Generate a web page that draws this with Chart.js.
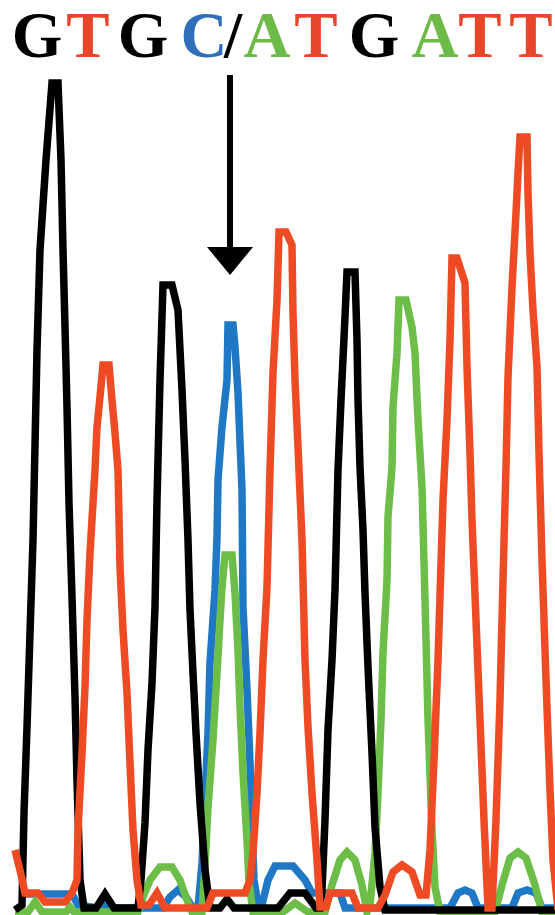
<!DOCTYPE html>
<html>
<head>
<meta charset="utf-8">
<script src="https://cdn.jsdelivr.net/npm/chart.js@4/dist/chart.umd.min.js"></script>
<style>
  html, body { margin: 0; padding: 0; background: #fff; }
  #wrap { position: relative; width: 555px; height: 915px; background: #fff; overflow: hidden; }
  #c { position: absolute; left: 0; top: 0; }
  .base { position: absolute; top: 3px; font-family: "Liberation Serif", "Times New Roman", serif; font-weight: bold; font-size: 65px; line-height: 1; transform: translateX(-50%); white-space: nowrap; }
</style>
</head>
<body>
<div id="wrap">
  <canvas id="c" width="555" height="915"></canvas>
  <div id="seq"></div>
</div>
<script>
// ---- Sequence read (base calls) ----
const baseLabels = ["G", "T", "G", "C", "/", "A", "T", "G", "A", "T", "T"];
const baseTypes  = ["G", "T", "G", "C", "/", "A", "T", "G", "A", "T", "T"];
// scan positions of the base calls (trace x units)
const basePositions = [37, 88, 143, 204, 233, 267, 316, 374, 435, 480, 531];

// ---- Trace data: scan position (x) and fluorescence intensity ----
const gScan = [15,22,24,27,30,33,37,40,46,52,58,61,63,65,67,69,72,75,77,80,84,96,105,114,138,141,145,148,152,155,157,160,163,172,178,182,185,188,190,193,196,200,205,210,220,227,234,278,290,305,316,320,322,325,328,332,335,338,341,345,347,355,357,358,360,363,365,368,372,375,380,385,555];
const gSignal = [0,5,97,183,277,370,560,660,750,827,827,750,660,583,503,407,313,213,130,30,2,2,16,2,2,30,87,160,227,303,410,530,625,625,600,520,450,370,300,237,177,107,40,2,2,11,2,2,17,17,2,2,20,90,180,250,320,440,510,593,638,638,570,510,443,380,317,243,157,83,23,0,0];

const tScan = [15,20,25,38,45,65,72,77,78,82,85,87,90,95,97,100,103,109,112,115,118,120,123,127,130,133,137,141,149,157,165,207,213,245,250,253,257,260,263,267,270,273,277,279,286,292,293,295,298,302,305,308,312,317,320,326,330,352,358,378,385,393,402,412,420,426,430,434,438,443,447,450,452,457,465,467,470,472,476,480,484,488,492,496,500,503,506,508,512,514,516,518,520,527,528,530,533,537,539,542,546,550,553,558];
const tSignal = [60,40,17,17,8,8,17,30,80,157,223,290,357,440,483,513,545,545,510,477,440,343,280,217,147,80,30,5,5,17,2,2,17,17,30,57,117,177,250,323,440,537,610,678,678,665,597,530,463,370,250,183,117,50,3,3,17,17,2,2,15,38,45,38,15,15,60,150,250,410,490,570,652,652,627,543,457,390,290,190,90,2,2,90,210,330,443,533,623,660,697,737,773,773,717,657,600,543,457,350,230,120,50,0];

const aScan = [15,28,35,42,66,70,74,138,143,150,160,172,180,187,192,202,205,208,213,217,220,222,225,232,235,238,240,243,247,249,253,283,295,308,325,332,340,347,355,362,367,370,375,378,381,383,387,388,392,393,397,399,406,412,415,418,422,425,428,432,435,440,495,502,510,518,526,535,542,555];
const aSignal = [-2,-2,8,-2,-2,3,-2,-2,13,30,43,43,30,10,-2,-2,43,103,170,237,290,323,355,355,317,260,203,137,70,27,-2,-2,7,-2,-2,25,50,58,50,25,-2,5,57,117,190,257,330,393,443,503,557,610,610,583,557,490,423,310,190,80,23,-2,-2,25,52,58,52,25,-2,-2];

const cScan = [25,72,78,98,103,108,163,170,178,186,193,198,202,205,208,210,215,217,218,222,227,228,233,235,238,242,243,247,250,252,254,258,262,268,275,293,305,312,340,345,450,458,465,472,478,512,518,527,536,542,555];
const cSignal = [16,16,5,2,7,2,2,13,20,13,2,2,47,113,177,247,320,373,430,483,530,585,585,563,517,420,303,220,147,80,30,5,5,30,44,44,30,17,17,2,2,17,20,17,2,2,17,20,17,2,2];

// arrow marking the heterozygous position (trace units)
const arrowScan = 230;
const arrowTopSignal = 835;
const arrowTipSignal = 635;

const colors = { G: "#000000", T: "#EE4A24", A: "#6CBE48", C: "#1F78C6", "/": "#000000" };
const textColors = { G: "#000000", T: "#E8452A", A: "#6DBA48", C: "#2F6FBA", "/": "#000000" };

function pts(xs, ys) { return xs.map((x, i) => ({ x: x, y: ys[i] })); }

// sequence letters as HTML text
const seq = document.getElementById("seq");
baseLabels.forEach((b, i) => {
  const s = document.createElement("span");
  s.className = "base";
  s.textContent = b;
  s.style.left = basePositions[i] + "px";
  s.style.color = textColors[baseTypes[i]];
  seq.appendChild(s);
});

const arrowPlugin = {
  id: "arrow",
  afterDatasetsDraw(chart) {
    const ctx = chart.ctx;
    const xs = chart.scales.x, ys = chart.scales.y;
    const x = xs.getPixelForValue(arrowScan);
    const yTop = ys.getPixelForValue(arrowTopSignal);
    const yTip = ys.getPixelForValue(arrowTipSignal);
    ctx.save();
    ctx.fillStyle = "#000";
    ctx.fillRect(x - 3, yTop, 6, (yTip - yTop) - 20);
    ctx.beginPath();
    ctx.moveTo(x - 23, yTip - 28);
    ctx.lineTo(x + 23, yTip - 28);
    ctx.lineTo(x, yTip);
    ctx.closePath();
    ctx.fill();
    ctx.restore();
  }
};

const common = { borderWidth: 7.5, pointRadius: 0, tension: 0, fill: false, borderJoinStyle: "miter", borderCapStyle: "butt" };

new Chart(document.getElementById("c"), {
  type: "line",
  data: {
    datasets: [
      Object.assign({ label: "T", data: pts(tScan, tSignal), borderColor: colors.T, order: 0 }, common),
      Object.assign({ label: "G", data: pts(gScan, gSignal), borderColor: colors.G, order: 1 }, common),
      Object.assign({ label: "A", data: pts(aScan, aSignal), borderColor: colors.A, order: 2 }, common),
      Object.assign({ label: "C", data: pts(cScan, cSignal), borderColor: colors.C, order: 3 }, common)
    ]
  },
  options: {
    responsive: false,
    animation: false,
    layout: { padding: 0 },
    plugins: { legend: { display: false }, tooltip: { enabled: false }, title: { display: false } },
    scales: {
      x: { type: "linear", min: 0, max: 555, display: false },
      y: { type: "linear", min: -5, max: 910, display: false }
    }
  },
  plugins: [arrowPlugin]
});
</script>
</body>
</html>
